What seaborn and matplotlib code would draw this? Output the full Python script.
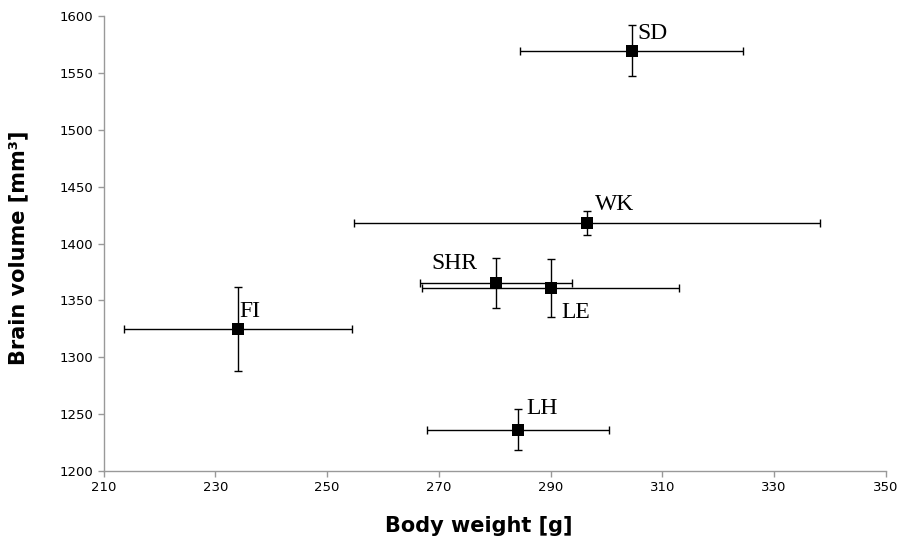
import pandas as pd
import matplotlib.pyplot as plt
import seaborn as sns

# rat strains: mean body weight / brain volume with SD
strains = ["SD", "WK", "SHR", "LE", "FI", "LH"]
body_weight = [304.5, 296.5, 280.2, 290.0, 234.0, 284.2]
weight_err = [20.0, 41.7, 13.6, 23.0, 20.4, 16.3]
brain_volume = [1569.5, 1418.0, 1365.0, 1361.0, 1325.0, 1236.0]
volume_err = [22.5, 10.7, 22.0, 25.7, 37.0, 18.0]
label_offsets = [(4, 5), (6, 6), (-13, 7), (8, -10), (1, 5), (6, 8)]
label_align = [("left", "bottom"), ("left", "bottom"), ("right", "bottom"),
               ("left", "top"), ("left", "bottom"), ("left", "bottom")]

df = pd.DataFrame({"strain": strains, "weight": body_weight, "w_err": weight_err,
                   "volume": brain_volume, "v_err": volume_err})

sns.set_theme(style="ticks")
plt.rcParams["font.family"] = ["DejaVu Sans"]
plt.rcParams["text.color"] = "black"

fig = plt.figure(figsize=(9.02, 5.4), dpi=100)
ax = fig.add_axes([0.115, 0.128, 0.867, 0.842])

ax.errorbar(df["weight"], df["volume"], xerr=df["w_err"], yerr=df["v_err"],
            fmt="none", ecolor="black", elinewidth=1.0, capsize=3, capthick=1.0, zorder=2)
sns.scatterplot(data=df, x="weight", y="volume", marker="s", color="black",
                s=75, edgecolor="black", linewidth=0, ax=ax, zorder=3)

for i, row in df.iterrows():
    ha, va = label_align[i]
    ax.annotate(row["strain"], (row["weight"], row["volume"]), xytext=label_offsets[i],
                textcoords="offset points", ha=ha, va=va, fontsize=17,
                family="Liberation Serif", color="black")

ax.set_xlim(210, 350)
ax.set_ylim(1200, 1600)
ax.set_xticks(range(210, 351, 20))
ax.set_yticks(range(1200, 1601, 50))
ax.set_xlabel("Body weight [g]", fontsize=15, fontweight="bold", color="black")
ax.set_ylabel("Brain volume [mm³]", fontsize=15, fontweight="bold", color="black")
ax.xaxis.set_label_coords(0.48, -0.1)
ax.yaxis.set_label_coords(-0.097, 0.49)

for side in ["top", "right"]:
    ax.spines[side].set_visible(False)
for side in ["left", "bottom"]:
    ax.spines[side].set_color("#999999")
    ax.spines[side].set_linewidth(1.0)
ax.tick_params(colors="#999999", labelcolor="black", labelsize=9.5, length=4, width=1)

fig.savefig("out.png", dpi=100)
